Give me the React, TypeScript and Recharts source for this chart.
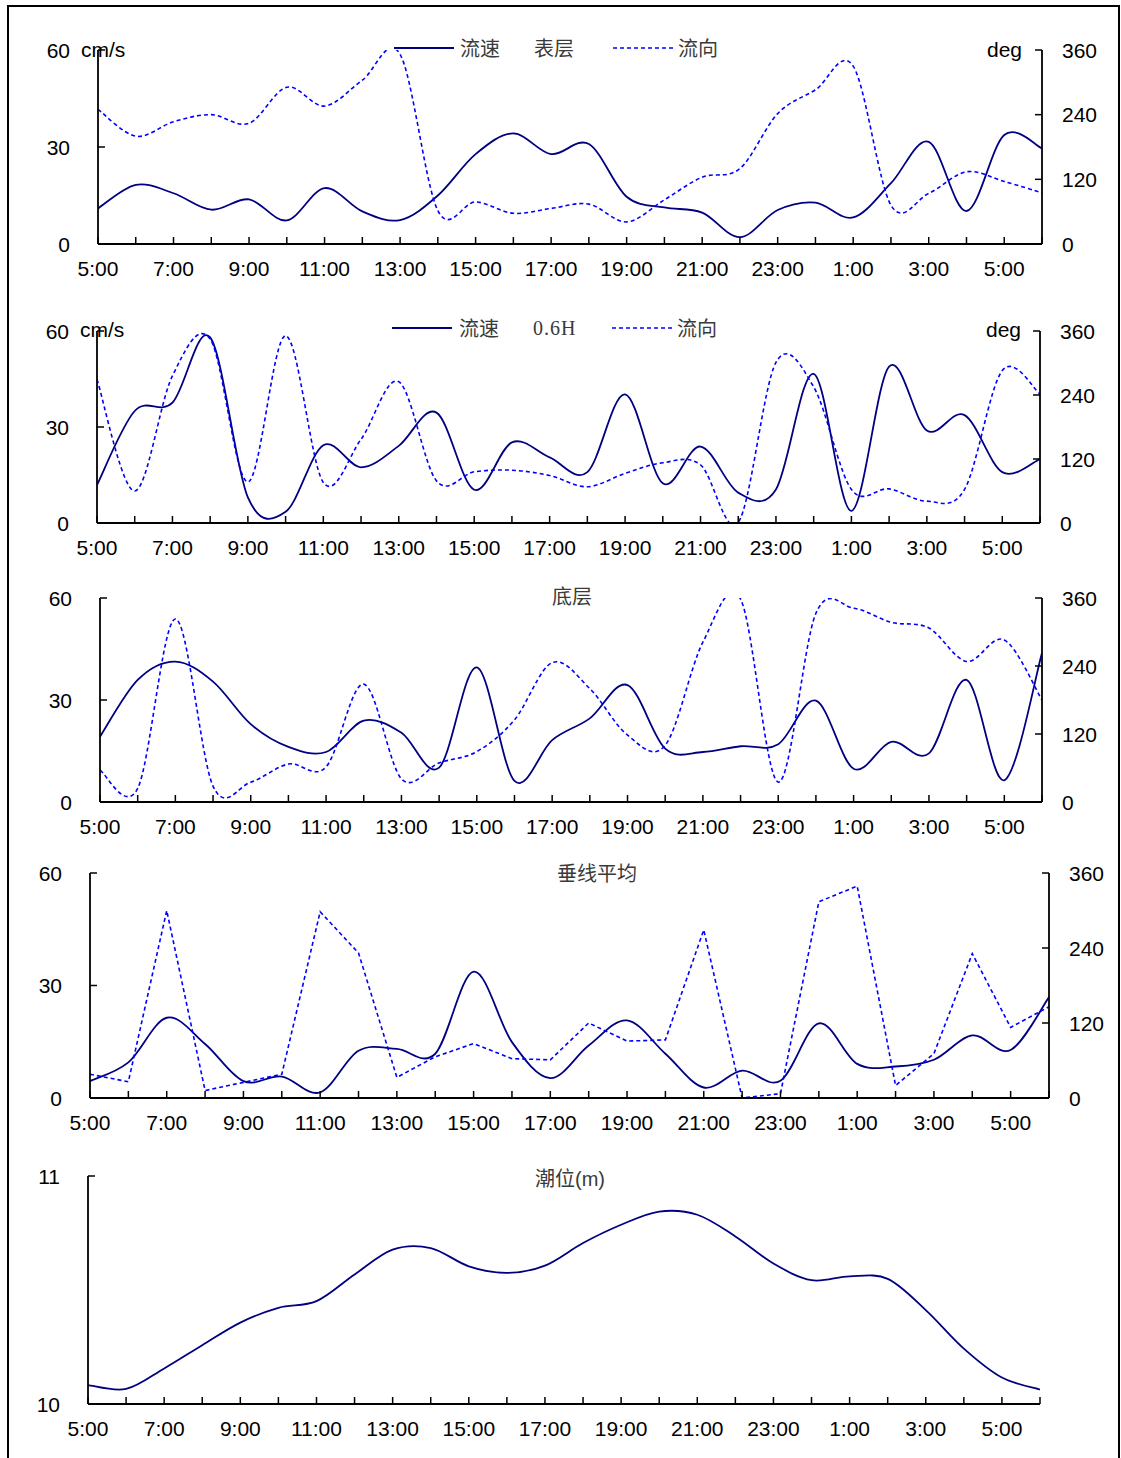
import React from 'react';
import { LineChart, Line, XAxis, YAxis } from 'recharts';

// hourly readings, 5:00 to 6:00 next day
const hours = ['5:00', '6:00', '7:00', '8:00', '9:00', '10:00', '11:00', '12:00', '13:00', '14:00', '15:00', '16:00', '17:00',
    '18:00', '19:00', '20:00', '21:00', '22:00', '23:00', '0:00', '1:00', '2:00', '3:00', '4:00', '5:00', '6:00'];

const surfSpeed = [11.0, 18.3, 15.7, 10.6, 13.8, 7.3, 17.3, 10.1, 7.4, 15.0, 27.8, 34.2, 27.8, 30.9, 14.6, 11.3, 9.7, 2.1, 10.5, 12.8, 8.2, 18.8, 31.6, 10.2, 33.7, 29.6];
const surfDir = [250, 200, 227, 240, 224, 291, 256, 304, 352, 62, 78, 57, 66, 74, 41, 82, 124, 140, 242, 286, 330, 72, 94, 134, 116, 95];

const midSpeed = [11.9, 35.0, 37.6, 58.0, 8.0, 3.5, 24.3, 17.4, 24.1, 34.5, 10.4, 25.2, 20.5, 15.9, 40.2, 12.4, 23.9, 9.5, 10.5, 46.6, 3.8, 48.9, 28.9, 33.7, 15.9, 20.0];
const midDir = [269, 60, 276, 345, 77, 351, 76, 157, 265, 79, 96, 99, 89, 68, 93, 113, 109, 1, 301, 255, 63, 64, 41, 63, 286, 242];

const botSpeed = [19.2, 35.9, 41.3, 35.4, 22.9, 16.2, 14.7, 23.9, 20.4, 10.1, 39.6, 6.2, 18.2, 24.6, 34.4, 15.7, 14.7, 16.4, 17.0, 29.8, 9.8, 17.7, 14.3, 35.9, 6.4, 43.8];
const botDir = [56, 24, 323, 28, 35, 67, 62, 208, 41, 69, 89, 145, 246, 200, 118, 100, 282, 358, 35, 333, 342, 317, 307, 248, 286, 180];

const avgSpeed = [4.5, 9.5, 21.4, 14.4, 4.5, 5.7, 1.5, 12.6, 13.1, 11.8, 33.7, 14.9, 5.3, 14.0, 20.7, 11.8, 2.8, 7.3, 4.6, 19.9, 9.1, 8.4, 10.2, 16.7, 12.8, 26.9];
const avgDir = [38, 26, 300, 12, 25, 38, 298, 232, 33, 66, 87, 63, 61, 120, 91, 93, 269, 0, 7, 314, 339, 20, 71, 231, 113, 146];

const tide = [10.083, 10.066, 10.156, 10.258, 10.357, 10.422, 10.451, 10.568, 10.677, 10.684, 10.604, 10.575, 10.607,
    10.706, 10.786, 10.844, 10.830, 10.735, 10.616, 10.543, 10.560, 10.549, 10.412, 10.243, 10.116, 10.063];

const speedTicks = [0, 30, 60];
const dirTicks = [0, 120, 240, 360];
const tideTicks = [10, 11];

const W = 1121;
const NUM = 'Liberation Sans, Arial, sans-serif';
const CJK = '"Noto Sans CJK SC", sans-serif';

const makeRows = (speed: number[], dir?: number[]) =>
    hours.map((h, i) => ({ i, time: h, speed: speed[i], dir: dir ? dir[i] : null }));

// excel style smoothed line (catmull-rom through every point)
const excelCurve: any = (context: any) => {
    let pts: number[][] = [];
    return {
        areaStart() {},
        areaEnd() {},
        lineStart() { pts = []; },
        point(x: number, y: number) { pts.push([+x, +y]); },
        lineEnd() {
            const n = pts.length;
            if (!n) return;
            context.moveTo(pts[0][0], pts[0][1]);
            for (let k = 0; k < n - 1; k++) {
                const p0 = pts[Math.max(k - 1, 0)];
                const p1 = pts[k];
                const p2 = pts[k + 1];
                const p3 = pts[Math.min(k + 2, n - 1)];
                context.bezierCurveTo(
                    p1[0] + (p2[0] - p0[0]) / 6, p1[1] + (p2[1] - p0[1]) / 6,
                    p2[0] - (p3[0] - p1[0]) / 6, p2[1] - (p3[1] - p1[1]) / 6,
                    p2[0], p2[1]);
            }
        },
    };
};

interface PanelProps {
    data: any[];
    plotLeft: number;
    plotRight: number;
    plotTop: number;
    plotBottom: number;
    leftDomain: [number, number];
    leftTicks: number[];
    showDir?: boolean;
    dirType?: any;
}

const allHours = hours.map((_, i) => i);

function Panel({ data, plotLeft, plotRight, plotTop, plotBottom, leftDomain, leftTicks, showDir = true, dirType = excelCurve }: PanelProps) {
    const padTop = 20;
    const padBottom = 46;
    const plotH = plotBottom - plotTop;
    const height = plotH + padTop + padBottom;
    const axisY = padTop + plotH;

    const xTick = (props: any) => {
        const i = props.payload.value;
        const x = props.x;
        return (
            <g>
                <line x1={x} y1={axisY} x2={x} y2={axisY - 7} stroke="#000" strokeWidth={1.5} />
                {i % 2 === 0 ? (
                    <text x={x} y={axisY + 32} textAnchor="middle" fontSize={21} fontFamily={NUM} fill="#000">{hours[i]}</text>
                ) : null}
            </g>
        );
    };
    const leftTick = (props: any) => {
        const y = props.y;
        return (
            <g>
                <line x1={plotLeft} y1={y} x2={plotLeft + 7} y2={y} stroke="#000" strokeWidth={1.5} />
                <text x={plotLeft - 28} y={y + 7.5} textAnchor="end" fontSize={21} fontFamily={NUM} fill="#000">{props.payload.value}</text>
            </g>
        );
    };
    const rightTick = (props: any) => {
        const y = props.y;
        return (
            <g>
                <line x1={plotRight} y1={y} x2={plotRight - 7} y2={y} stroke="#000" strokeWidth={1.5} />
                <text x={plotRight + 20} y={y + 7.5} textAnchor="start" fontSize={21} fontFamily={NUM} fill="#000">{props.payload.value}</text>
            </g>
        );
    };

    const axisLine = { stroke: '#000', strokeWidth: 1.8 };

    return (
        <div style={{ position: 'absolute', left: 0, top: plotTop - padTop }}>
            <LineChart width={W} height={height} data={data}
                       margin={{ top: padTop, bottom: 0, left: 0, right: showDir ? 0 : W - plotRight }}>
                <XAxis dataKey="i" type="number" domain={[0, 25]} ticks={allHours} interval={0} height={padBottom}
                       tick={xTick} tickLine={false} axisLine={axisLine} tickSize={0} tickMargin={0} allowDataOverflow />
                <YAxis yAxisId="left" orientation="left" width={plotLeft} domain={leftDomain} ticks={leftTicks} interval={0}
                       tick={leftTick} tickLine={false} axisLine={axisLine} tickSize={0} tickMargin={0} allowDataOverflow />
                {showDir && (
                    <YAxis yAxisId="right" orientation="right" width={W - plotRight} domain={[0, 360]} ticks={dirTicks} interval={0}
                           tick={rightTick} tickLine={false} axisLine={axisLine} tickSize={0} tickMargin={0} allowDataOverflow />
                )}
                <Line yAxisId="left" dataKey="speed" type={excelCurve} stroke="#000080" strokeWidth={1.8}
                      dot={false} activeDot={false} isAnimationActive={false} />
                {showDir && (
                    <Line yAxisId="right" dataKey="dir" type={dirType} stroke="#0000ff" strokeWidth={1.6} strokeDasharray="4 3"
                          dot={false} activeDot={false} isAnimationActive={false} />
                )}
            </LineChart>
        </div>
    );
}

function Txt({ x, y, children, style }: { x: number; y: number; children: React.ReactNode; style?: React.CSSProperties }) {
    return (
        <div style={{ position: 'absolute', left: x, top: y - 13, height: 26, lineHeight: '26px', whiteSpace: 'nowrap', ...style }}>
            {children}
        </div>
    );
}

const unitStyle: React.CSSProperties = { fontFamily: NUM, fontSize: 21, color: '#000' };
const cnStyle: React.CSSProperties = { fontFamily: CJK, fontSize: 20, color: '#3a3a3a' };

function LegendKey({ x, y, dashed }: { x: number; y: number; dashed?: boolean }) {
    return (
        <svg style={{ position: 'absolute', left: x, top: y - 3 }} width={60} height={6}>
            <line x1={0} y1={3} x2={60} y2={3} stroke={dashed ? '#0000ff' : '#000080'} strokeWidth={dashed ? 1.6 : 1.8}
                  strokeDasharray={dashed ? '4 3' : undefined} />
        </svg>
    );
}

export default function App() {
    return (
        <div style={{ position: 'absolute', left: 0, top: 0, width: W, height: 1458, background: '#fff', overflow: 'hidden' }}>
            <div style={{ position: 'absolute', left: 7, top: 5, width: 1113, height: 1480, border: '2px solid #000', boxSizing: 'border-box' }} />

            <Panel data={makeRows(surfSpeed, surfDir)} plotLeft={98} plotRight={1042} plotTop={50} plotBottom={244}
                   leftDomain={[0, 60]} leftTicks={speedTicks} />
            <Panel data={makeRows(midSpeed, midDir)} plotLeft={97} plotRight={1040} plotTop={331} plotBottom={523}
                   leftDomain={[0, 60]} leftTicks={speedTicks} />
            <Panel data={makeRows(botSpeed, botDir)} plotLeft={100} plotRight={1042} plotTop={598} plotBottom={802}
                   leftDomain={[0, 60]} leftTicks={speedTicks} />
            <Panel data={makeRows(avgSpeed, avgDir)} plotLeft={90} plotRight={1049} plotTop={873} plotBottom={1098}
                   leftDomain={[0, 60]} leftTicks={speedTicks} dirType="linear" />
            <Panel data={makeRows(tide)} plotLeft={88} plotRight={1040} plotTop={1176} plotBottom={1404}
                   leftDomain={[10, 11]} leftTicks={tideTicks} showDir={false} />

            {/* panel 1 labels */}
            <Txt x={81} y={50} style={unitStyle}>cm/s</Txt>
            <Txt x={987} y={50} style={unitStyle}>deg</Txt>
            <LegendKey x={394} y={48} />
            <Txt x={460} y={48} style={cnStyle}>流速</Txt>
            <Txt x={534} y={48} style={cnStyle}>表层</Txt>
            <LegendKey x={613} y={48} dashed />
            <Txt x={678} y={48} style={cnStyle}>流向</Txt>

            {/* panel 2 labels */}
            <Txt x={80} y={330} style={unitStyle}>cm/s</Txt>
            <Txt x={986} y={330} style={unitStyle}>deg</Txt>
            <LegendKey x={392} y={328} />
            <Txt x={459} y={328} style={cnStyle}>流速</Txt>
            <Txt x={533} y={328} style={{ fontFamily: 'Liberation Serif, serif', fontSize: 20, color: '#3a3a3a', letterSpacing: 1 }}>0.6H</Txt>
            <LegendKey x={612} y={328} dashed />
            <Txt x={677} y={328} style={cnStyle}>流向</Txt>

            <Txt x={552} y={596} style={cnStyle}>底层</Txt>
            <Txt x={557} y={873} style={cnStyle}>垂线平均</Txt>
            <Txt x={535} y={1178} style={cnStyle}>潮位<span style={{ fontFamily: NUM }}>(m)</span></Txt>
        </div>
    );
}
